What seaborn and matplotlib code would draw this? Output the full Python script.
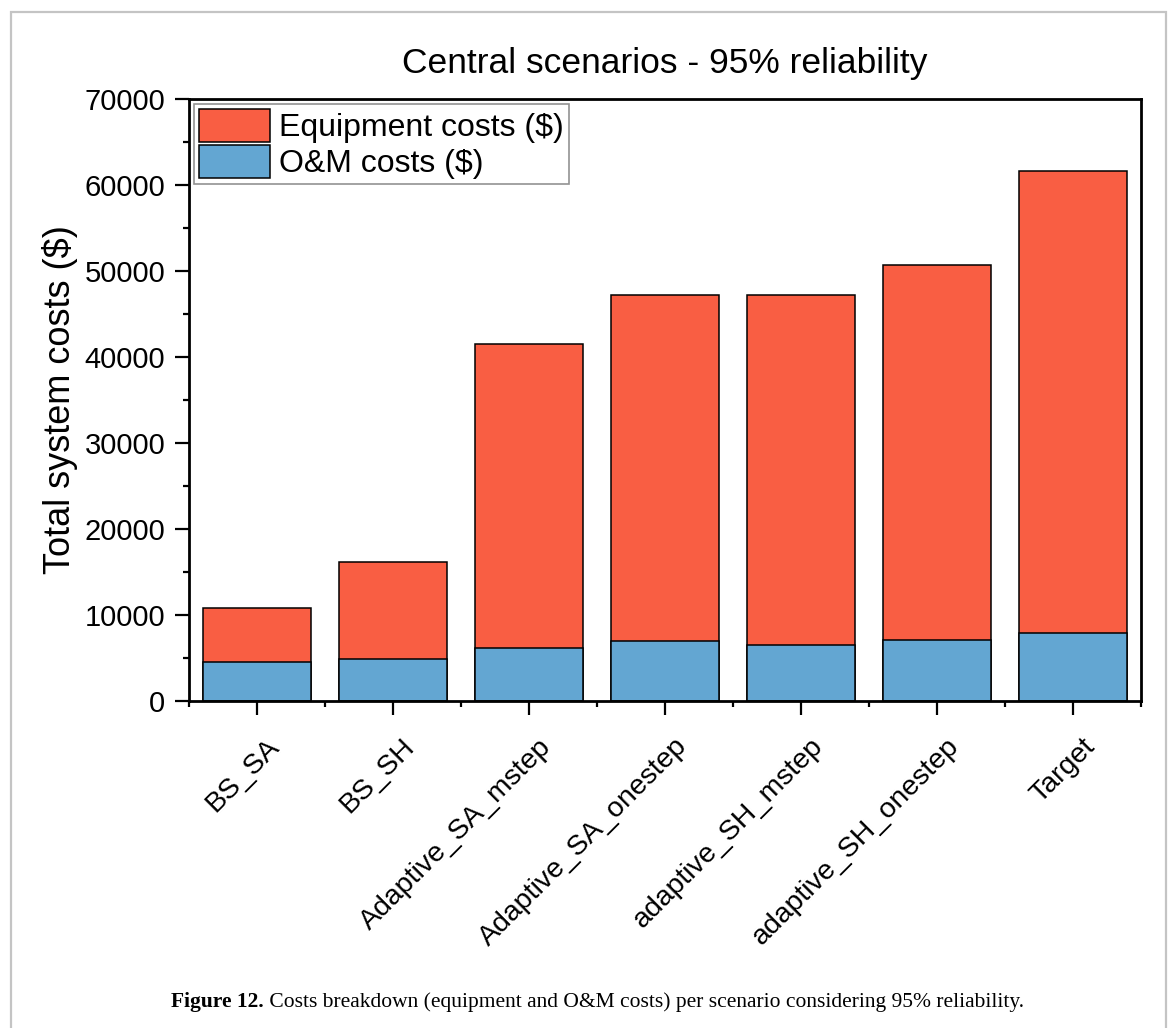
import numpy as np
import pandas as pd
import matplotlib
matplotlib.use("Agg")
import matplotlib.pyplot as plt
from matplotlib.patches import Patch, Rectangle
from matplotlib.ticker import MultipleLocator, FixedLocator
from matplotlib.transforms import ScaledTranslation
import seaborn as sns

# ---- data ----
categories = ["BS_SA", "BS_SH", "Adaptive_SA_mstep", "Adaptive_SA_onestep",
              "adaptive_SH_mstep", "adaptive_SH_onestep", "Target"]
om_costs = [4500, 4850, 6200, 6950, 6550, 7150, 7950]
equipment_costs = [6350, 11350, 35300, 40250, 40650, 43600, 53650]
yticks = [0, 10000, 20000, 30000, 40000, 50000, 60000, 70000]

title = "Central scenarios - 95% reliability"
ylabel = "Total system costs ($)"
legend_labels = ["Equipment costs ($)", "O&M costs ($)"]
caption_bold = "Figure 12."
caption_rest = " Costs breakdown (equipment and O&M costs) per scenario considering 95% reliability."

RED = "#F95E43"
BLUE = "#63A6D2"

sns.set_style("ticks")
plt.rcParams["font.family"] = ["Liberation Sans", "DejaVu Sans"]
plt.rcParams["text.color"] = "black"
plt.rcParams["axes.labelcolor"] = "black"
plt.rcParams["xtick.color"] = "black"
plt.rcParams["ytick.color"] = "black"

df = pd.DataFrame({"scenario": categories, "om": om_costs, "equipment": equipment_costs})
df["total"] = df["om"] + df["equipment"]

fig = plt.figure(figsize=(11.7, 10.28), dpi=100)
ax = fig.add_axes([189 / 1170, 1 - 701 / 1028, (1141 - 189) / 1170, (701 - 99) / 1028])

sns.barplot(data=df, x="scenario", y="total", color=RED, saturation=1,
            edgecolor="black", linewidth=1.1, width=0.8, errorbar=None, ax=ax)
sns.barplot(data=df, x="scenario", y="om", color=BLUE, saturation=1,
            edgecolor="black", linewidth=1.1, width=0.8, errorbar=None, ax=ax)

ax.set_xlim(-0.5, len(categories) - 0.5)
ax.set_ylim(0, 70000)
ax.set_yticks(yticks)
ax.set_yticklabels([str(v) for v in yticks])
ax.yaxis.set_minor_locator(MultipleLocator(5000))
ax.xaxis.set_minor_locator(FixedLocator(np.arange(-0.5, len(categories), 1.0)))
ax.set_xlabel("")
ax.set_ylabel(ylabel, fontsize=26, color="black")
ax.yaxis.set_label_coords(-0.117, 0.5)

for s in ax.spines.values():
    s.set_visible(True)
    s.set_linewidth(2)
    s.set_color("black")

ax.tick_params(which="major", direction="out", length=10, width=1.6,
               labelsize=21, pad=7, color="black", labelcolor="black")
ax.tick_params(which="minor", direction="out", length=4.5, width=1.6, color="black")
ax.set_xticks(range(len(categories)))
ax.set_xticklabels(categories, rotation=45, ha="right", va="center",
                   rotation_mode="anchor", fontsize=20.5, color="black")
shift = ScaledTranslation(18 / 100, -18 / 100, fig.dpi_scale_trans)
for lab in ax.get_xticklabels():
    lab.set_transform(lab.get_transform() + shift)

ax.set_title(title, fontsize=25.5, pad=19, color="black")

handles = [Patch(facecolor=RED, edgecolor="black", linewidth=1.1),
           Patch(facecolor=BLUE, edgecolor="black", linewidth=1.1)]
leg = ax.legend(handles, legend_labels, loc="upper left", fontsize=23,
                frameon=True, fancybox=False, borderaxespad=0.17,
                handlelength=2.2, handleheight=1.2, handletextpad=0.3,
                labelspacing=0.06, borderpad=0.15)
leg.get_frame().set_edgecolor("#777777")
leg.get_frame().set_linewidth(1.2)
for t in leg.get_texts():
    t.set_color("black")

# figure frame
fig.add_artist(Rectangle((11 / 1170, -0.05), (1166 - 11) / 1170, 1.05 - 12 / 1028,
                         transform=fig.transFigure, fill=False,
                         edgecolor="#C4C4C4", linewidth=1.6))

# caption
fig.canvas.draw()
renderer = fig.canvas.get_renderer()
cy = 1 - 1002 / 1028
t1 = fig.text(171 / 1170, cy, caption_bold, fontsize=15.5, fontweight="bold",
              family=["Liberation Serif", "DejaVu Serif"], va="center", ha="left",
              color="black")
bb = t1.get_window_extent(renderer)
fig.text(bb.x1 / fig.bbox.width, cy, caption_rest, fontsize=15.5,
         family=["Liberation Serif", "DejaVu Serif"], va="center", ha="left",
         color="black")

fig.savefig("out.png", dpi=100)
